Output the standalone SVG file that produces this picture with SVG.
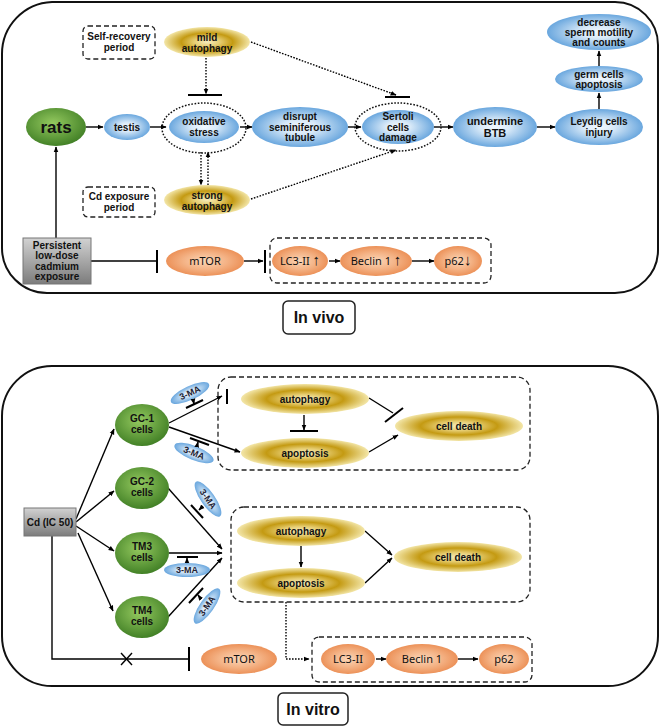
<svg xmlns="http://www.w3.org/2000/svg" width="660" height="727" viewBox="0 0 660 727">
<defs>
<radialGradient id="gBlue"><stop offset="0" stop-color="#f4f9fe"/><stop offset="0.35" stop-color="#d8e9f8"/><stop offset="1" stop-color="#6aa7de"/></radialGradient>
<radialGradient id="gGold"><stop offset="0" stop-color="#f6ecbd"/><stop offset="0.3" stop-color="#e6cd72"/><stop offset="0.6" stop-color="#c49a12"/><stop offset="1" stop-color="#f3e6a8"/></radialGradient>
<radialGradient id="gGreen" cx="0.45" cy="0.4" r="0.65"><stop offset="0" stop-color="#94c95f"/><stop offset="1" stop-color="#3c7b22"/></radialGradient>
<radialGradient id="gOrange"><stop offset="0" stop-color="#fbd6b8"/><stop offset="0.55" stop-color="#f4b386"/><stop offset="1" stop-color="#ec9158"/></radialGradient>
<linearGradient id="gGray" x1="0" y1="0" x2="0" y2="1"><stop offset="0" stop-color="#d2d2d2"/><stop offset="1" stop-color="#7c7c7c"/></linearGradient>
<marker id="ah" viewBox="0 0 10 10" refX="9" refY="5" markerWidth="6" markerHeight="6" markerUnits="userSpaceOnUse" orient="auto"><path d="M0,1 L10,5 L0,9 z" fill="#000"/></marker>
</defs>
<style>
text{font-family:"Liberation Sans",Arial,sans-serif;font-weight:bold;font-size:10px;fill:#111;text-anchor:middle}
.reg{font-weight:normal;font-size:11px;font-family:"Noto Sans","Liberation Sans",sans-serif}
.up{font-weight:bold;font-size:15px}
.frame{fill:none;stroke:#111;stroke-width:2}
.ln{fill:none;stroke:#000;stroke-width:1.4}
.bar{fill:none;stroke:#000;stroke-width:2}
.dot{fill:none;stroke:#000;stroke-width:1.4;stroke-dasharray:1.6 1.4}
.dash{fill:none;stroke:#222;stroke-width:1.3;stroke-dasharray:5 3}
.dotell{fill:none;stroke:#111;stroke-width:1.5;stroke-dasharray:1.6 1.6}
.blue{fill:url(#gBlue)}
.gold{fill:url(#gGold)}
.green{fill:url(#gGreen)}
.orange{fill:url(#gOrange)}
.ma{font-size:9px;fill:#223}
</style>

<!-- frames -->
<path class="frame" d="M52,2 H615 A43,43 0 0 1 658,45 V250 A43,43 0 0 1 615,293 H47 A45,45 0 0 1 2,248 V54 A52,52 0 0 1 52,2 Z"/>
<path class="frame" d="M52,366 H608 A50,50 0 0 1 658,416 V636 A50,50 0 0 1 608,686 H52 A50,50 0 0 1 2,636 V416 A50,50 0 0 1 52,366 Z"/>
<g id="label-invivo"><rect x="283" y="301" width="72" height="33" rx="5" fill="#fff" stroke="#222" stroke-width="1.5"/><text x="319" y="323" style="font-size:16px">In vivo</text></g>
<g id="label-invitro"><rect x="278" y="693" width="70" height="32" rx="5" fill="#fff" stroke="#222" stroke-width="1.5"/><text x="313" y="715" style="font-size:16px">In vitro</text></g>

<!-- ============ connectors ============ -->
<g id="connectors">
<!-- top -->
<line class="ln" x1="86" y1="127" x2="103" y2="127" marker-end="url(#ah)"/>
<line class="ln" x1="150" y1="127" x2="166" y2="127" marker-end="url(#ah)"/>
<line class="ln" x1="240" y1="127" x2="252" y2="127" marker-end="url(#ah)"/>
<line class="ln" x1="348" y1="127" x2="361" y2="127" marker-end="url(#ah)"/>
<line class="ln" x1="434" y1="127" x2="453" y2="127" marker-end="url(#ah)"/>
<line class="ln" x1="537" y1="127" x2="555" y2="127" marker-end="url(#ah)"/>
<line class="ln" x1="599" y1="109" x2="599" y2="93" marker-end="url(#ah)"/>
<line class="ln" x1="599" y1="66" x2="599" y2="51" marker-end="url(#ah)"/>
<line class="dot" x1="206" y1="58" x2="206" y2="94" marker-end="url(#ah)"/>
<line class="bar" x1="188" y1="95" x2="222" y2="95"/>
<line class="dot" x1="251" y1="42" x2="396" y2="95" marker-end="url(#ah)"/>
<line class="bar" x1="385" y1="97" x2="410" y2="97"/>
<line class="dot" x1="251" y1="199" x2="396" y2="150" marker-end="url(#ah)"/>
<line class="dot" x1="201" y1="152" x2="201" y2="185" marker-end="url(#ah)"/>
<line class="dot" x1="208" y1="185" x2="208" y2="152" marker-end="url(#ah)"/>
<line class="ln" x1="56" y1="238" x2="56" y2="147" marker-end="url(#ah)"/>
<line class="ln" x1="91" y1="261" x2="157" y2="261"/>
<line class="bar" x1="157" y1="250" x2="157" y2="273"/>
<line class="ln" x1="244" y1="261" x2="263" y2="261" marker-end="url(#ah)"/>
<line class="bar" x1="265" y1="250" x2="265" y2="273"/>
<line class="ln" x1="329" y1="261" x2="340" y2="261" marker-end="url(#ah)"/>
<line class="ln" x1="412" y1="261" x2="434" y2="261" marker-end="url(#ah)"/>
<!-- bottom -->
<line class="ln" x1="76" y1="519" x2="114" y2="429" marker-end="url(#ah)"/>
<line class="ln" x1="76" y1="522" x2="114" y2="491" marker-end="url(#ah)"/>
<line class="ln" x1="76" y1="526" x2="114" y2="551" marker-end="url(#ah)"/>
<line class="ln" x1="78" y1="533" x2="113" y2="611" marker-end="url(#ah)"/>
<polyline class="ln" points="52,536 52,659 188,659"/>
<line class="bar" x1="189" y1="647" x2="189" y2="671"/>
<line class="ln" x1="121" y1="653" x2="132" y2="665"/>
<line class="ln" x1="132" y1="653" x2="121" y2="665"/>
<line class="ln" x1="169" y1="423" x2="222" y2="396" marker-end="url(#ah)"/>
<line class="bar" x1="227" y1="389" x2="227" y2="404"/>
<line class="ln" x1="169" y1="427" x2="240" y2="452" marker-end="url(#ah)"/>
<line class="ln" x1="304" y1="415" x2="304" y2="430" marker-end="url(#ah)"/>
<line class="bar" x1="290" y1="431" x2="318" y2="431"/>
<line class="ln" x1="369" y1="398" x2="393" y2="413"/>
<line class="bar" x1="385" y1="422" x2="403" y2="408"/>
<line class="ln" x1="369" y1="452" x2="398" y2="435" marker-end="url(#ah)"/>
<line class="ln" x1="168" y1="488" x2="222" y2="549" marker-end="url(#ah)"/>
<line class="ln" x1="169" y1="553" x2="222" y2="553" marker-end="url(#ah)"/>
<line class="ln" x1="168" y1="617" x2="222" y2="558" marker-end="url(#ah)"/>
<line class="ln" x1="301" y1="546" x2="301" y2="567" marker-end="url(#ah)"/>
<line class="ln" x1="365" y1="531" x2="392" y2="555" marker-end="url(#ah)"/>
<line class="ln" x1="365" y1="583" x2="392" y2="558" marker-end="url(#ah)"/>
<polyline class="dot" points="286,602 286,659 309,659" marker-end="url(#ah)"/>
<line class="ln" x1="376" y1="659" x2="386" y2="659" marker-end="url(#ah)"/>
<line class="ln" x1="458" y1="659" x2="478" y2="659" marker-end="url(#ah)"/>
</g>

<!-- ============ top nodes ============ -->
<g id="self-recovery"><rect class="dash" x="83" y="26" width="72" height="33" rx="5"/><text x="119" y="40">Self-recovery</text><text x="119" y="51">period</text></g>
<g id="cd-exposure-period"><rect class="dash" x="83" y="187" width="72" height="30" rx="5"/><text x="119" y="200">Cd exposure</text><text x="119" y="211">period</text></g>
<g id="mild-autophagy"><ellipse class="gold" cx="207" cy="42" rx="43" ry="15"/><text x="207" y="41">mild</text><text x="207" y="52">autophagy</text></g>
<g id="strong-autophagy"><ellipse class="gold" cx="207" cy="200" rx="43" ry="15"/><text x="207" y="199">strong</text><text x="207" y="210">autophagy</text></g>
<g id="rats"><ellipse class="green" cx="56" cy="127" rx="30" ry="19"/><text x="56" y="133" style="font-size:17px">rats</text></g>
<g id="testis"><ellipse class="blue" cx="127" cy="127" rx="23" ry="13"/><text x="127" y="131">testis</text></g>
<g id="oxidative-stress"><ellipse class="dotell" cx="204" cy="128" rx="42" ry="25"/><ellipse class="blue" cx="204" cy="127" rx="35" ry="16"/><text x="204" y="125">oxidative</text><text x="204" y="136">stress</text></g>
<g id="disrupt"><ellipse class="blue" cx="300" cy="127" rx="48" ry="20"/><text x="300" y="120">disrupt</text><text x="300" y="131">seminiferous</text><text x="300" y="141">tubule</text></g>
<g id="sertoli"><ellipse class="dotell" cx="398" cy="127" rx="43" ry="24"/><ellipse class="blue" cx="398" cy="127" rx="36" ry="17"/><text x="398" y="120">Sertoli</text><text x="398" y="131">cells</text><text x="398" y="141">damage</text></g>
<g id="undermine-btb"><ellipse class="blue" cx="495" cy="127" rx="42" ry="20"/><text x="495" y="125" style="font-size:11px">undermine</text><text x="495" y="137" style="font-size:11px">BTB</text></g>
<g id="leydig"><ellipse class="blue" cx="599" cy="127" rx="44" ry="18"/><text x="599" y="125">Leydig cells</text><text x="599" y="136">injury</text></g>
<g id="germ-apoptosis"><ellipse class="blue" cx="599" cy="79" rx="44" ry="13"/><text x="599" y="78">germ cells</text><text x="599" y="88">apoptosis</text></g>
<g id="decrease-sperm"><ellipse class="blue" cx="599" cy="32" rx="52" ry="18"/><text x="599" y="26">decrease</text><text x="599" y="36">sperm motility</text><text x="599" y="46">and counts</text></g>
<g id="persistent-cd"><rect x="23" y="238" width="68" height="46" fill="url(#gGray)" stroke="#777" stroke-width="1"/><text x="57" y="249">Persistent</text><text x="57" y="259">low-dose</text><text x="57" y="270">cadmium</text><text x="57" y="280">exposure</text></g>
<g id="mtor-vivo"><ellipse class="orange" cx="205" cy="261" rx="39" ry="15"/><text class="reg" x="205" y="265">mTOR</text></g>
<g id="markers-vivo"><rect class="dash" x="270" y="238" width="221" height="45" rx="7"/></g>
<g id="lc3-vivo"><ellipse class="orange" cx="300" cy="261" rx="28" ry="15"/><text class="reg" x="300" y="265">LC3-II <tspan class="up">↑</tspan></text></g>
<g id="beclin-vivo"><ellipse class="orange" cx="376" cy="261" rx="36" ry="15"/><text class="reg" x="376" y="265">Beclin 1 <tspan class="up">↑</tspan></text></g>
<g id="p62-vivo"><ellipse class="orange" cx="458" cy="261" rx="24" ry="15"/><text class="reg" x="458" y="265">p62<tspan class="up">↓</tspan></text></g>

<!-- ============ bottom nodes ============ -->
<g id="cd-ic50"><rect x="24" y="508" width="52" height="28" fill="url(#gGray)" stroke="#777" stroke-width="1"/><text x="50" y="526">Cd (IC 50)</text></g>
<g id="gc1"><ellipse class="green" cx="142" cy="425" rx="27" ry="21"/><text x="142" y="422">GC-1</text><text x="142" y="433">cells</text></g>
<g id="gc2"><ellipse class="green" cx="142" cy="488" rx="27" ry="21"/><text x="142" y="485">GC-2</text><text x="142" y="496">cells</text></g>
<g id="tm3"><ellipse class="green" cx="142" cy="553" rx="27" ry="21"/><text x="142" y="550">TM3</text><text x="142" y="561">cells</text></g>
<g id="tm4"><ellipse class="green" cx="142" cy="617" rx="27" ry="21"/><text x="142" y="614">TM4</text><text x="142" y="625">cells</text></g>

<g id="box-gc1"><rect class="dash" x="218" y="377" width="312" height="93" rx="13"/></g>
<g id="autophagy1"><ellipse class="gold" cx="305" cy="399" rx="64" ry="15"/><text x="305" y="403">autophagy</text></g>
<g id="apoptosis1"><ellipse class="gold" cx="305" cy="453" rx="64" ry="15"/><text x="305" y="457">apoptosis</text></g>
<g id="celldeath1"><ellipse class="gold" cx="459" cy="426" rx="64" ry="15"/><text x="459" y="430">cell death</text></g>

<g id="box-others"><rect class="dash" x="231" y="507" width="299" height="95" rx="13"/></g>
<g id="autophagy2"><ellipse class="gold" cx="301" cy="531" rx="64" ry="15"/><text x="301" y="535">autophagy</text></g>
<g id="apoptosis2"><ellipse class="gold" cx="301" cy="583" rx="64" ry="15"/><text x="301" y="587">apoptosis</text></g>
<g id="celldeath2"><ellipse class="gold" cx="458" cy="557" rx="64" ry="15"/><text x="458" y="561">cell death</text></g>

<g id="mtor-vitro"><ellipse class="orange" cx="239" cy="659" rx="38" ry="15"/><text class="reg" x="239" y="663">mTOR</text></g>
<g id="markers-vitro"><rect class="dash" x="312" y="637" width="220" height="45" rx="7"/></g>
<g id="lc3-vitro"><ellipse class="orange" cx="348" cy="659" rx="27" ry="15"/><text class="reg" x="348" y="663">LC3-II</text></g>
<g id="beclin-vitro"><ellipse class="orange" cx="422" cy="659" rx="36" ry="15"/><text class="reg" x="422" y="663">Beclin 1</text></g>
<g id="p62-vitro"><ellipse class="orange" cx="504" cy="659" rx="25" ry="15"/><text class="reg" x="504" y="663">p62</text></g>

<!-- 3-MA inhibitors -->
<g id="ma1"><ellipse class="blue" cx="190" cy="393" rx="21" ry="7" transform="rotate(-25 190 393)"/><text class="ma" x="190" y="396" transform="rotate(-25 190 393)">3-MA</text><line class="ln" x1="193" y1="399" x2="194" y2="404" marker-end="url(#ah)"/><line class="bar" x1="186" y1="408" x2="203" y2="400"/></g>
<g id="ma2"><ellipse class="blue" cx="194" cy="453" rx="21" ry="7" transform="rotate(22 194 453)"/><text class="ma" x="194" y="456" transform="rotate(22 194 453)">3-MA</text><line class="ln" x1="197" y1="446" x2="198" y2="442" marker-end="url(#ah)"/><line class="bar" x1="190" y1="438" x2="209" y2="445"/></g>
<g id="ma3"><ellipse class="blue" cx="208" cy="499" rx="21" ry="7" transform="rotate(55 208 499)"/><text class="ma" x="208" y="502" transform="rotate(55 208 499)">3-MA</text><line class="ln" x1="203" y1="506" x2="199" y2="510" marker-end="url(#ah)"/><line class="bar" x1="191" y1="505" x2="203" y2="518"/></g>
<g id="ma4"><ellipse class="blue" cx="187" cy="570" rx="23" ry="7"/><text class="ma" x="187" y="573">3-MA</text><line class="ln" x1="187" y1="563" x2="187" y2="558" marker-end="url(#ah)"/><line class="bar" x1="177" y1="557" x2="198" y2="557"/></g>
<g id="ma5"><ellipse class="blue" cx="207" cy="606" rx="21" ry="7" transform="rotate(-55 207 606)"/><text class="ma" x="207" y="609" transform="rotate(-55 207 606)">3-MA</text><line class="ln" x1="201" y1="599" x2="198" y2="595" marker-end="url(#ah)"/><line class="bar" x1="189" y1="603" x2="203" y2="588"/></g>
</svg>
